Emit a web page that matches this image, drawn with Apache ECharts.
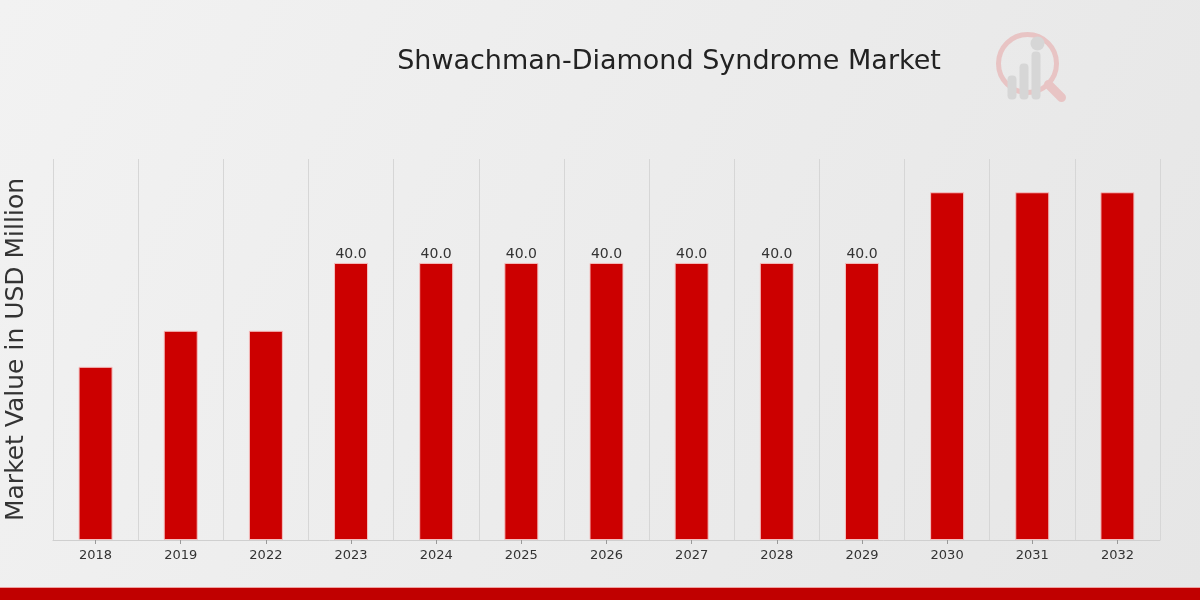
<!DOCTYPE html>
<html><head><meta charset="utf-8">
<script src="https://cdn.jsdelivr.net/npm/echarts@6/dist/echarts.min.js"></script>
<style>html,body{margin:0;padding:0;}#c{width:1200px;height:600px;}</style>
</head><body><div id="c"></div>
<script>
const categories = ['2018','2019','2022','2023','2024','2025','2026','2027','2028','2029','2030','2031','2032'];
const values = [25.0, 30.2, 30.2, 40.0, 40.0, 40.0, 40.0, 40.0, 40.0, 40.0, 50.2, 50.2, 50.2];
const labelled = [false, false, false, true, true, true, true, true, true, true, false, false, false];

const chart = echarts.init(document.getElementById('c'));
chart.setOption({
  animation: false,
  backgroundColor: new echarts.graphic.LinearGradient(0, 0, 1, 1, [
    {offset: 0, color: '#f2f2f2'}, {offset: 1, color: '#e6e6e6'}
  ]),
  title: {
    text: 'Shwachman-Diamond Syndrome Market',
    left: 664, top: 43, textAlign: 'center',
    textStyle: {fontFamily: 'DejaVu Sans', fontWeight: 'normal', fontSize: 27, color: '#222'}
  },
  grid: {left: 53, right: 40, top: 159, bottom: 60, outerBoundsMode: 'none', containLabel: false},
  xAxis: {
    type: 'category', data: categories,
    axisLine: {show: true, lineStyle: {color: '#cfcfcf'}},
    axisTick: {show: true, alignWithLabel: true, length: 4, lineStyle: {color: '#999'}},
    axisLabel: {fontFamily: 'DejaVu Sans', fontSize: 13, color: '#333', margin: 9},
    splitLine: {show: true, lineStyle: {color: '#d6d6d6', width: 1}}
  },
  yAxis: {
    type: 'value', min: 0, max: 55,
    name: 'Market Value in USD Million', nameLocation: 'middle', nameGap: 24,
    nameTextStyle: {fontFamily: 'DejaVu Sans', fontSize: 25, color: '#333'},
    axisLabel: {show: false}, axisLine: {show: false}, axisTick: {show: false},
    splitLine: {show: false}
  },
  series: [{
    type: 'bar', barWidth: 34,
    data: values.map((v, i) => ({
      value: v,
      label: {show: labelled[i], position: 'top', distance: 2, formatter: (p) => p.value.toFixed(1),
              fontFamily: 'DejaVu Sans', fontSize: 14, color: '#333'}
    })),
    itemStyle: {color: '#cc0000', borderColor: '#f4c0c0', borderWidth: 1}
  }],
  graphic: [
    {type: 'rect', left: 0, top: 588, shape: {width: 1200, height: 12}, style: {fill: '#c00000'}, z: 10},
    {type: 'rect', left: 0, top: 587, shape: {width: 1200, height: 1}, style: {fill: '#f0a0a0'}, z: 10},
    {type: 'group', left: 996, top: 32, children: [
      {type: 'circle', shape: {cx: 34, cy: 34, r: 29}, style: {fill: 'none', stroke: '#e8c4c4', lineWidth: 5}},
      {type: 'line', shape: {x1: 55, y1: 55, x2: 68, y2: 68}, style: {stroke: '#e8c4c4', lineWidth: 9, lineCap: 'round'}},
      {type: 'rect', shape: {x: 14, y: 46, width: 9, height: 24, r: 4}, style: {fill: '#d6d6d6'}},
      {type: 'rect', shape: {x: 26, y: 34, width: 9, height: 36, r: 4}, style: {fill: '#d6d6d6'}},
      {type: 'rect', shape: {x: 38, y: 22, width: 9, height: 48, r: 4}, style: {fill: '#d6d6d6'}},
      {type: 'circle', shape: {cx: 44, cy: 14, r: 7}, style: {fill: '#d6d6d6'}}
    ]}
  ]
});
</script></body></html>
